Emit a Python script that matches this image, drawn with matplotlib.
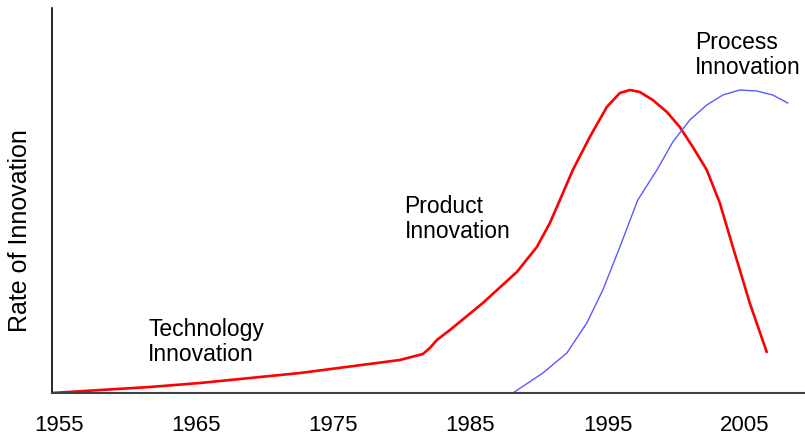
import matplotlib.pyplot as plt

# values (x in years, y as % of axis height)
product_years = [1954.5, 1961.64, 1965.29, 1972.58, 1979.86, 1981.54, 1982.05, 1982.56,
                 1983.51, 1985.91, 1988.39, 1989.85, 1990.80, 1991.53, 1992.47, 1993.71,
                 1994.95, 1995.90, 1996.63, 1997.36, 1998.30, 1999.33, 2000.27, 2001.22,
                 2002.24, 2003.19, 2004.14, 2004.65, 2005.37, 2006.61]
product_rate = [0, 1.56, 2.60, 5.19, 8.57, 10.13, 11.69, 13.77,
                16.36, 23.38, 31.43, 37.92, 44.16, 50.13, 57.92, 66.49,
                74.29, 77.92, 78.70, 78.18, 76.10, 72.99, 69.09, 63.90,
                57.92, 49.35, 37.92, 31.95, 23.38, 10.65]

process_years = [1988.10, 1990.29, 1992.04, 1993.49, 1994.66, 1995.90, 1997.21, 1998.60,
                 1999.76, 2001.00, 2002.24, 2003.41, 2004.65, 2005.88, 2007.05, 2008.14]
process_rate = [0, 5.19, 10.39, 18.18, 26.75, 37.92, 50.13, 57.92,
                65.19, 70.91, 74.81, 77.40, 78.70, 78.44, 77.40, 75.32]

tick_years = [1955, 1965, 1975, 1985, 1995, 2005]

plt.rcParams['font.family'] = ['Liberation Sans', 'DejaVu Sans']

fig = plt.figure(figsize=(8.05, 4.37), dpi=100)
ax = fig.add_axes([52 / 805, 44 / 437, 753 / 805, 385 / 437])

ax.plot(product_years, product_rate, color='#ff0000', lw=1.9,
        solid_capstyle='round', solid_joinstyle='round')
ax.plot(process_years, process_rate, color='#5a5aff', lw=1.0, solid_joinstyle='round')

ax.set_xlim(1954.5, 2009.4)
ax.set_ylim(0, 100)
ax.set_xticks(tick_years)
ax.set_xticklabels([str(y) for y in tick_years])
ax.set_yticks([])
ax.tick_params(axis='x', length=0, pad=16, labelsize=16)

for s in ['top', 'right']:
    ax.spines[s].set_visible(False)
ax.spines['left'].set_color('black')
ax.spines['left'].set_linewidth(1.2)
ax.spines['bottom'].set_color('#404040')
ax.spines['bottom'].set_linewidth(1.5)

ax.set_ylabel('Rate of Innovation', fontsize=18)
ax.yaxis.set_label_coords(-0.026, 0.423)

ax.text(1961.5, 19.5, 'Technology\nInnovation', fontsize=16.5, va='top', ha='left', linespacing=1.1)
ax.text(1980.2, 51.5, 'Product\nInnovation', fontsize=16.5, va='top', ha='left', linespacing=1.1)
ax.text(2001.4, 94, 'Process\nInnovation', fontsize=16.5, va='top', ha='left', linespacing=1.1,
        clip_on=False)

fig.savefig('out.png', dpi=100)
